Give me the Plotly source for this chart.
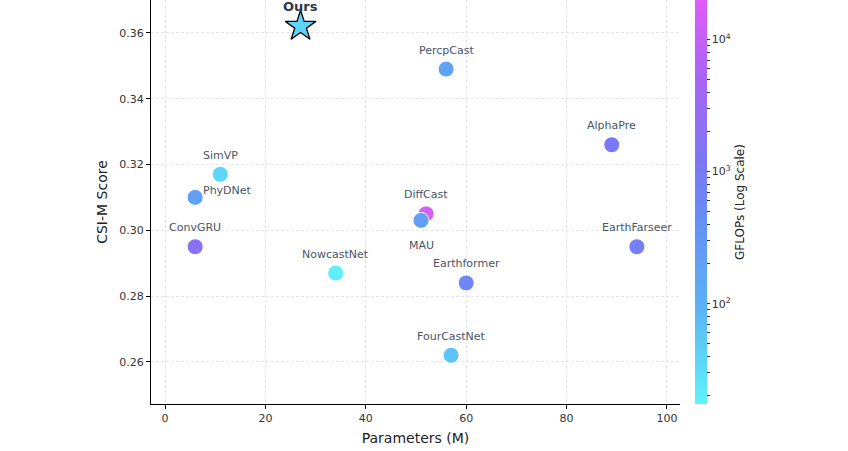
import numpy as np
import plotly.graph_objects as go

# model data
models = ["PercpCast", "AlphaPre", "SimVP", "PhyDNet", "DiffCast", "MAU",
          "ConvGRU", "EarthFarseer", "NowcastNet", "Earthformer", "FourCastNet"]
params = [56, 89, 11, 6, 52, 51, 6, 94, 34, 60, 57]
csi = [0.349, 0.326, 0.317, 0.310, 0.305, 0.303, 0.295, 0.295, 0.287, 0.284, 0.262]
gflops = [180, 1100, 35, 200, 15000, 220, 1800, 900, 20, 600, 60]

ours_params = [27]
ours_csi = [0.362]
ours_gflops = [40]

cb_ticks = [2, 3, 4]
cb_ticktext = ["10<sup>2</sup>", "10<sup>3</sup>", "10<sup>4</sup>"]

cmin, cmax = 1.24, 4.30
scale = [[0.0, "#5ff3fa"], [0.25, "#5bb0f5"], [0.45, "#6690f5"],
         [0.6, "#7c76f5"], [0.8, "#a865f5"], [1.0, "#df5cf8"]]

# minor ticks on the log colorbar
minor = [np.log10(m * 10 ** d) for d in range(1, 5) for m in range(2, 10)]
minor = [v for v in minor if cmin <= v <= cmax]
tickvals = cb_ticks + minor
ticktext = cb_ticktext + [""] * len(minor)

fig = go.Figure()

fig.add_trace(go.Scatter(
    x=params, y=csi, mode="markers",
    marker=dict(size=16, color=np.log10(gflops), colorscale=scale,
                cmin=cmin, cmax=cmax, line=dict(color="white", width=1),
                colorbar=dict(
                    x=1.028, xanchor="left", y=0.5, yanchor="middle",
                    len=1, thickness=12, outlinewidth=0, xpad=0, ypad=0,
                    tickmode="array", tickvals=tickvals, ticktext=ticktext,
                    ticks="outside", ticklen=3, tickwidth=1, tickcolor="#333",
                    tickfont=dict(size=11, color="#333"),
                    title=dict(text="GFLOPs (Log Scale)", side="right",
                               font=dict(size=12, color="#222")),
                )),
    showlegend=False, hoverinfo="skip",
))

fig.add_trace(go.Scatter(
    x=ours_params, y=ours_csi, mode="markers",
    marker=dict(symbol="star", size=23, color=np.log10(ours_gflops),
                colorscale=scale, cmin=cmin, cmax=cmax,
                line=dict(color="black", width=1.3)),
    showlegend=False, hoverinfo="skip",
))

for name, px_, py_ in zip(models, params, csi):
    xs, ys = 0, 19
    if name == "MAU":
        ys = -25
    elif name == "PhyDNet":
        xs, ys = 32, 7
    fig.add_annotation(x=px_, y=py_, text=name, showarrow=False,
                       xshift=xs, yshift=ys,
                       font=dict(size=11, color="#4a5568"))

fig.add_annotation(x=ours_params[0], y=ours_csi[0], text="<b>Ours</b>",
                   showarrow=False, yshift=20,
                   font=dict(size=13, color="#2d3748"))

axis_common = dict(
    showline=True, linecolor="black", linewidth=1,
    ticks="outside", ticklen=4, tickcolor="black",
    tickfont=dict(size=11, color="#333"),
    showgrid=True, gridcolor="#e6e6e6", gridwidth=0.8, griddash="3px,2px",
    zeroline=False, mirror=False, automargin=False,
)

fig.update_xaxes(range=[-2.8, 102.6], tickvals=[0, 20, 40, 60, 80, 100],
                 title=dict(text="Parameters (M)", font=dict(size=14, color="#222"),
                            standoff=8),
                 **axis_common)
fig.update_yaxes(range=[0.2472, 0.3700],
                 tickvals=[0.26, 0.28, 0.30, 0.32, 0.34, 0.36],
                 tickformat=".2f",
                 title=dict(text="CSI-M Score", font=dict(size=14, color="#222"),
                            standoff=8),
                 **axis_common)

fig.update_layout(
    width=848, height=451,
    margin=dict(l=151, r=168, t=0, b=47, autoexpand=False),
    plot_bgcolor="white", paper_bgcolor="white",
    font=dict(family="DejaVu Sans"),
)

fig.write_html("out.html", config={"displayModeBar": False},
               post_script="document.body.style.margin = '0';")
